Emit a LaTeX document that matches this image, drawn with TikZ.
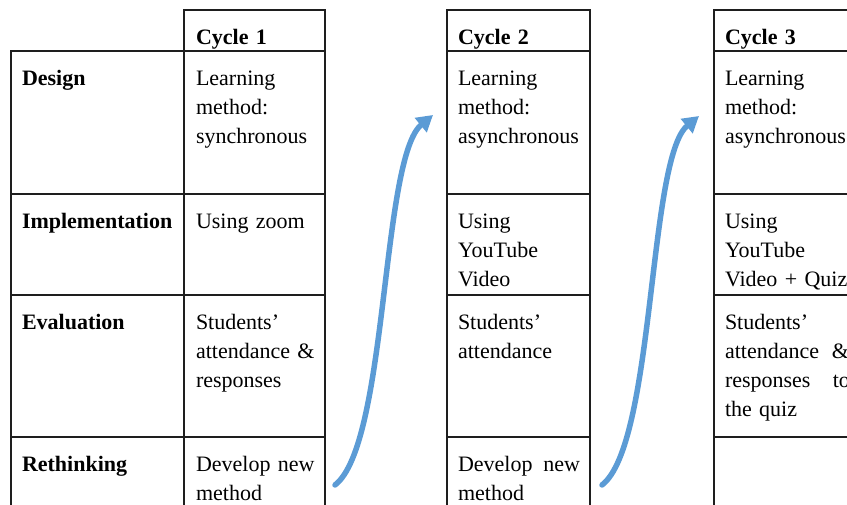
\documentclass[tikz,border=0pt]{standalone}
\usepackage{fontspec}
\setmainfont{Liberation Serif}
\usetikzlibrary{arrows.meta}
\definecolor{flowblue}{HTML}{5B9BD5}
\definecolor{gridline}{HTML}{1E1E1E}
\newcommand{\cellfont}{\fontsize{22}{29.3}\selectfont}
% two words pushed out to a given line width
\newcommand{\spreadline}[3]{\leavevmode\hbox to #1{#2\hfill#3}}

\begin{document}
\begin{tikzpicture}[x=1pt,y=-1pt,
  cell/.style={draw=gridline, line width=1.2pt, outer sep=0pt, inner sep=0pt,
               anchor=north west},
  labcol/.style={cell, minimum width=173pt},
  cyccol/.style={cell, minimum width=141pt},
  cyccolw/.style={cell, minimum width=143pt},
  txt/.style={anchor=north west, inner sep=0pt, outer sep=0pt,
              text width=140pt, align=left, font=\cellfont},
  labtxt/.style={txt, text width=165pt, font=\cellfont\bfseries},
  flow/.style={draw=flowblue, line width=5.5pt, line cap=round,
               -{Triangle[length=16pt,width=18pt]}}
]
\clip (0,0) rectangle (847,504);

% row heights: design 143, implementation 101, evaluation 142, rethinking (runs off)
% ---- stage labels
\node[labcol, minimum height=143pt] (Ld) at (11,51)  {};
\node[labcol, minimum height=101pt] (Li) at (11,194) {};
\node[labcol, minimum height=142pt] (Le) at (11,295) {};
\node[labcol, minimum height=130pt] (Lr) at (11,437) {};
\node[labtxt] (tLd) at ([xshift=11pt,yshift=-13.5pt]Ld.north west) {\strut Design};
\node[labtxt] (tLi) at ([xshift=11pt,yshift=-13.5pt]Li.north west) {\strut Implementation};
\node[labtxt] (tLe) at ([xshift=11pt,yshift=-13.5pt]Le.north west) {\strut Evaluation};
\node[labtxt] (tLr) at ([xshift=11pt,yshift=-13.5pt]Lr.north west) {\strut Rethinking};

% ---- cycle 1
\node[cyccol, minimum height=41pt]  (Ah) at (184,10)  {};
\node[cyccol, minimum height=143pt] (Ad) at (184,51)  {};
\node[cyccol, minimum height=101pt] (Ai) at (184,194) {};
\node[cyccol, minimum height=142pt] (Ae) at (184,295) {};
\node[cyccol, minimum height=130pt] (Ar) at (184,437) {};
\node[labtxt] (tAh) at ([xshift=12pt,yshift=-13.5pt]Ah.north west) {\strut Cycle 1};
\node[txt] (tAd) at ([xshift=12pt,yshift=-13.5pt]Ad.north west) {\strut Learning\\method:\\synchronous};
\node[txt] (tAi) at ([xshift=12pt,yshift=-13.5pt]Ai.north west) {\strut Using zoom};
\node[txt] (tAe) at ([xshift=12pt,yshift=-13.5pt]Ae.north west) {\strut Students’\\attendance \&\\responses};
\node[txt] (tAr) at ([xshift=12pt,yshift=-13.5pt]Ar.north west) {\strut Develop new\\method};

% ---- cycle 2
\node[cyccolw, minimum height=41pt]  (Bh) at (447,10)  {};
\node[cyccolw, minimum height=143pt] (Bd) at (447,51)  {};
\node[cyccolw, minimum height=101pt] (Bi) at (447,194) {};
\node[cyccolw, minimum height=142pt] (Be) at (447,295) {};
\node[cyccolw, minimum height=130pt] (Br) at (447,437) {};
\node[labtxt] (tBh) at ([xshift=11pt,yshift=-13.5pt]Bh.north west) {\strut Cycle 2};
\node[txt] (tBd) at ([xshift=11pt,yshift=-13.5pt]Bd.north west) {\strut Learning\\method:\\asynchronous};
\node[txt] (tBi) at ([xshift=11pt,yshift=-13.5pt]Bi.north west) {\strut Using\\YouTube\\Video};
\node[txt] (tBe) at ([xshift=11pt,yshift=-13.5pt]Be.north west) {\strut Students’\\attendance};
\node[txt] (tBr) at ([xshift=11pt,yshift=-13.5pt]Br.north west) {\strut\spreadline{122pt}{Develop}{new}\\method};

% ---- cycle 3
\node[cyccolw, minimum height=41pt]  (Ch) at (714,10)  {};
\node[cyccolw, minimum height=143pt] (Cd) at (714,51)  {};
\node[cyccolw, minimum height=101pt] (Ci) at (714,194) {};
\node[cyccolw, minimum height=142pt] (Ce) at (714,295) {};
\node[cyccolw, minimum height=130pt] (Cr) at (714,437) {};
\node[labtxt] (tCh) at ([xshift=11pt,yshift=-13.5pt]Ch.north west) {\strut Cycle 3};
\node[txt] (tCd) at ([xshift=11pt,yshift=-13.5pt]Cd.north west) {\strut Learning\\method:\\asynchronous};
\node[txt] (tCi) at ([xshift=11pt,yshift=-13.5pt]Ci.north west) {\strut Using\\YouTube\\Video + Quiz};
\node[txt] (tCe) at ([xshift=11pt,yshift=-13.5pt]Ce.north west) {\strut Students’\\\spreadline{124pt}{attendance}{\&}\\\spreadline{125pt}{responses}{to}\\the quiz};

% ---- cycle-to-cycle arrows
\coordinate (f1s) at (335,485);
\coordinate (f1e) at (433,115);
\coordinate (f2s) at (602,485);
\coordinate (f2e) at (699,116);
\draw[flow] (f1s) .. controls (388,444) and (381,158) .. (f1e);
\draw[flow] (f2s) .. controls (655,444) and (648,158) .. (f2e);
\end{tikzpicture}
\end{document}
